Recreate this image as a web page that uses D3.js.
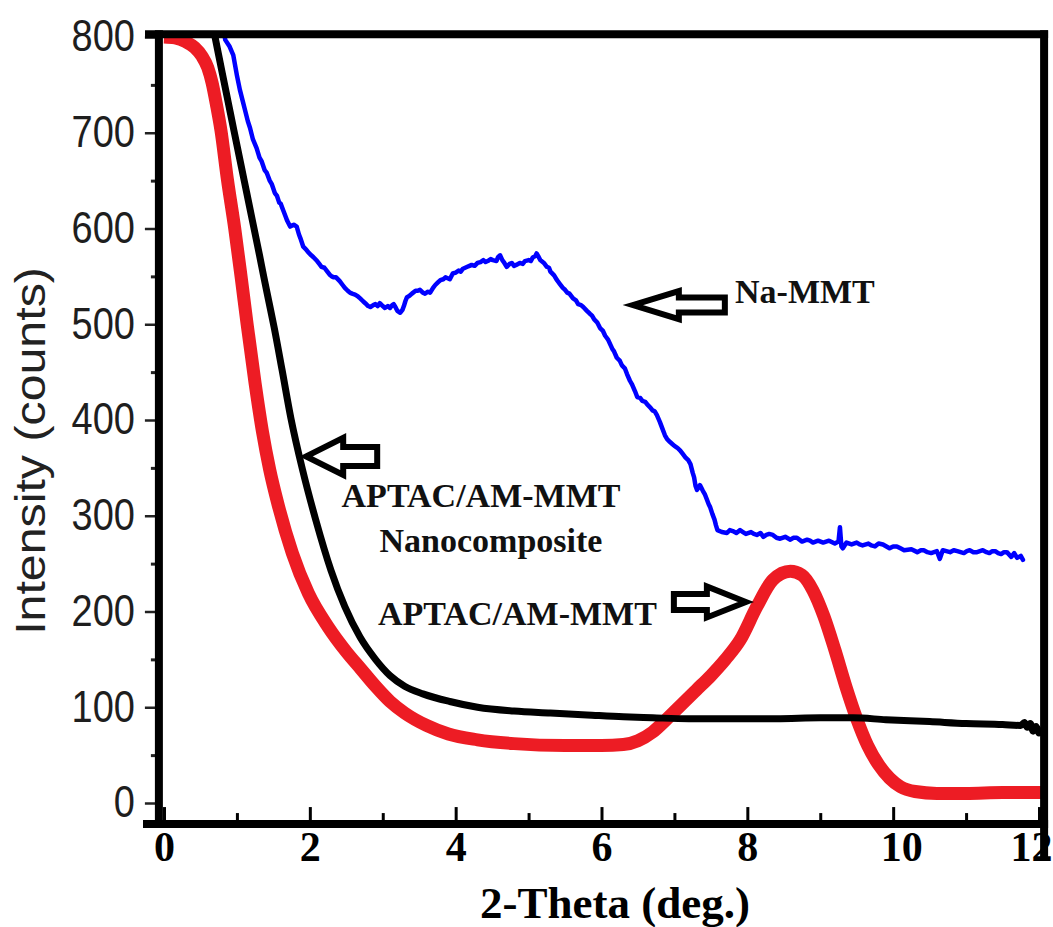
<!DOCTYPE html>
<html>
<head>
<meta charset="utf-8">
<script src="https://cdn.jsdelivr.net/npm/d3@7"></script>
<style>
  html, body { margin: 0; padding: 0; background: #fff; }
  svg { display: block; }
</style>
</head>
<body>
<svg id="chart" width="1053" height="927"></svg>
<script>
// ---------------- DATA ----------------
const xTicks = [0,1,2,3,4,5,6,7,8,9,10,11,12];
const yTicks = [0,100,200,300,400,500,600,700,800];
const yMinorTicks = [50,150,250,350,450,550,650,750];
const xTitle = "2-Theta (deg.)";
const yTitle = "Intensity (counts)";

// Na-MMT (blue)
const naMMT = [
[0.80,815],[0.84,797],[0.90,790],[0.95,781],[1.00,760],[1.04,745],[1.08,733],[1.11,724],[1.15,712],[1.18,705],
[1.22,693],[1.27,684],[1.31,674],[1.34,670],[1.38,661],[1.41,658],[1.45,650],[1.48,646],[1.52,637],[1.55,634],
[1.58,627],[1.60,626],[1.64,618],[1.67,612],[1.69,608],[1.73,602],[1.78,604],[1.82,602],[1.85,594],[1.87,590],
[1.91,581],[1.95,578],[1.98,575],[2.02,572],[2.05,570],[2.10,566],[2.13,563],[2.16,560],[2.20,559],[2.23,556],
[2.27,552],[2.30,550],[2.33,549],[2.36,549],[2.41,545],[2.45,541],[2.48,538],[2.52,535],[2.55,533],[2.58,532],
[2.62,531],[2.66,529],[2.69,527],[2.73,524],[2.76,522],[2.80,519],[2.83,518],[2.87,520],[2.90,521],[2.93,519],
[2.96,522],[3.00,519],[3.03,517],[3.07,519],[3.10,517],[3.13,520],[3.15,521],[3.18,517],[3.20,514],[3.24,512],
[3.27,515],[3.29,519],[3.31,524],[3.33,528],[3.37,530],[3.40,532],[3.45,535],[3.48,535],[3.51,536],[3.55,533],
[3.58,532],[3.62,534],[3.65,533],[3.69,538],[3.72,541],[3.76,544],[3.79,546],[3.83,547],[3.86,549],[3.89,548],
[3.92,547],[3.96,553],[4.00,554],[4.04,556],[4.07,555],[4.10,558],[4.13,559],[4.16,560],[4.19,561],[4.22,562],
[4.26,561],[4.30,564],[4.34,565],[4.38,567],[4.41,565],[4.44,566],[4.48,568],[4.51,567],[4.56,566],[4.58,570],
[4.61,572],[4.64,567],[4.66,565],[4.70,560],[4.74,563],[4.77,564],[4.80,561],[4.83,562],[4.88,564],[4.92,563],
[4.95,566],[5.00,567],[5.03,566],[5.06,570],[5.09,571],[5.11,574],[5.14,570],[5.16,567],[5.21,564],[5.25,560],
[5.28,559],[5.30,555],[5.35,551],[5.39,546],[5.43,542],[5.47,538],[5.50,536],[5.53,533],[5.56,532],[5.61,527],
[5.65,525],[5.68,521],[5.72,520],[5.75,518],[5.80,514],[5.84,511],[5.87,509],[5.90,505],[5.94,502],[5.98,496],
[6.02,493],[6.05,488],[6.09,484],[6.12,479],[6.15,474],[6.17,472],[6.21,465],[6.25,462],[6.28,457],[6.32,454],
[6.35,448],[6.39,441],[6.42,437],[6.46,430],[6.49,424],[6.53,423],[6.56,420],[6.60,419],[6.63,416],[6.67,413],
[6.70,410],[6.73,409],[6.76,405],[6.80,398],[6.83,392],[6.87,384],[6.90,380],[6.94,377],[6.97,375],[7.00,373],
[7.04,371],[7.08,368],[7.12,364],[7.15,361],[7.19,358],[7.22,354],[7.25,345],[7.27,340],[7.29,331],[7.31,327],
[7.35,332],[7.39,326],[7.42,322],[7.44,318],[7.47,312],[7.49,309],[7.52,302],[7.55,296],[7.57,290],[7.59,285],
[7.65,283],[7.72,282],[7.76,285],[7.80,284],[7.85,282],[7.90,285],[7.94,283],[7.98,281],[8.05,283],[8.09,281],
[8.13,280],[8.18,282],[8.22,278],[8.26,280],[8.30,281],[8.35,280],[8.40,277],[8.45,276],[8.52,278],[8.59,275],
[8.63,277],[8.68,277],[8.75,273],[8.82,275],[8.86,274],[8.90,272],[8.97,274],[9.04,272],[9.08,273],[9.12,274],
[9.20,271],[9.25,273],[9.27,288],[9.29,268],[9.31,266],[9.36,272],[9.43,270],[9.50,272],[9.54,270],[9.58,269],
[9.66,271],[9.70,269],[9.75,268],[9.80,271],[9.86,270],[9.95,266],[10.00,268],[10.05,268],[10.10,266],[10.15,264],
[10.25,265],[10.33,262],[10.38,264],[10.42,264],[10.47,262],[10.52,261],[10.60,263],[10.64,255],[10.68,264],[10.73,263],
[10.78,262],[10.83,264],[10.88,263],[10.97,261],[11.01,263],[11.05,264],[11.10,262],[11.15,262],[11.23,264],[11.28,262],
[11.32,261],[11.36,263],[11.40,263],[11.44,261],[11.48,260],[11.52,262],[11.56,262],[11.62,257],[11.66,261],[11.70,256],
[11.75,258],[11.78,254]
];

// APTAC/AM-MMT Nanocomposite (black)
const nanocomposite = [
[0.62,830],[0.70,800],[0.80,762],[0.88,732],[0.96,702],[1.03,676],[1.10,650],[1.17,624],[1.24,598],[1.31,572],
[1.37,549],[1.44,523],[1.51,497],[1.62,452],[1.74,402],[1.90,348],[2.08,296],[2.29,243],[2.48,205],[2.69,173],
[2.90,150],[3.10,133],[3.30,122],[3.55,114],[3.92,106],[4.30,100],[4.80,96],[5.30,94],[5.80,92],[6.30,90],
[6.70,89],[7.20,88],[7.80,88],[8.40,88],[9.00,89],[9.45,89],[9.90,87],[10.50,85],[11.00,83],[11.50,82],
[11.75,81],[11.80,84],[11.84,79],[11.88,83],[11.92,75],[11.96,80],[12.00,73],[12.05,78]
];

// APTAC/AM-MMT (red)
const aptacAM = [
[0.00,800],[0.15,799],[0.30,795],[0.42,789],[0.52,780],[0.60,768],[0.66,752],[0.72,729],[0.78,703],[0.87,651],
[0.97,600],[1.06,548],[1.14,500],[1.25,438],[1.35,388],[1.45,348],[1.56,313],[1.76,261],[1.98,219],[2.25,184],
[2.50,158],[2.70,140],[2.90,122],[3.10,106],[3.30,94],[3.60,81],[3.90,72],[4.30,66],[4.80,62],[5.50,60],
[6.00,60],[6.30,61],[6.50,65],[6.70,74],[6.90,88],[7.10,103],[7.30,118],[7.50,133],[7.70,150],[7.90,170],
[8.13,205],[8.35,233],[8.59,242],[8.75,238],[8.90,222],[9.05,195],[9.20,160],[9.35,122],[9.50,88],[9.65,60],
[9.80,40],[9.95,26],[10.10,17],[10.30,12],[10.60,10],[11.00,10],[11.50,11],[12.00,11],[12.12,11]
];

// annotation labels and arrow tips (data coordinates)
const labelNa = "Na-MMT";
const labelNano = ["APTAC/AM-MMT", "Nanocomposite"];
const labelAptac = "APTAC/AM-MMT";
const arrowTips = [
  {name:"na",   tip:[6.43,520], dir:-1},
  {name:"nano", tip:[1.95,362], dir:-1},
  {name:"apt",  tip:[7.98,210], dir: 1}
];

// ---------------- CHART ----------------
const svg = d3.select("#chart");
svg.append("rect").attr("width",1053).attr("height",927).attr("fill","#fff");

const x = d3.scaleLinear().domain([0,12]).range([164,1039]);
const y = d3.scaleLinear().domain([0,800]).range([803,37]);

const L = x(-0.07), R = x(12.07), T = y(803), B = y(-22);

const defs = svg.append("defs");
defs.append("clipPath").attr("id","clipPlot").append("rect")
  .attr("x",L).attr("y",T).attr("width",R-L).attr("height",B-T);
defs.append("clipPath").attr("id","clipRed").append("rect")
  .attr("x",L).attr("y",T).attr("width",R-L+12).attr("height",B-T);

// y axis major
const gy = svg.append("g").attr("transform",`translate(${L},0)`)
  .call(d3.axisLeft(y).tickValues(yTicks).tickSize(14).tickPadding(10));
gy.select(".domain").remove();
gy.selectAll(".tick line").attr("stroke","#222").attr("stroke-width",2.5);
gy.selectAll(".tick text")
  .attr("font-family","'Liberation Sans', Arial, sans-serif")
  .attr("font-size",38).attr("fill","#1e1e1e")
  .attr("transform","scale(1,1.15)");

// y axis minor
const gym = svg.append("g").attr("transform",`translate(${L},0)`)
  .call(d3.axisLeft(y).tickValues(yMinorTicks).tickSize(8).tickFormat(""));
gym.select(".domain").remove();
gym.selectAll(".tick line").attr("stroke","#222").attr("stroke-width",3);

// x axis
const gx = svg.append("g").attr("transform",`translate(0,${B})`)
  .call(d3.axisBottom(x).tickValues(xTicks).tickSize(-17).tickFormat(d => d % 2 ? "" : d));
gx.select(".domain").remove();
gx.selectAll(".tick line").attr("stroke","#000").attr("stroke-width",3)
  .attr("y2", d => d % 2 ? -11 : -17);
gx.selectAll(".tick text")
  .attr("y",37).attr("dy",0)
  .attr("dx", d => d === 10 ? 8 : (d === 12 ? -8 : 0))
  .attr("font-family","'Liberation Serif', 'Times New Roman', serif")
  .attr("font-weight","bold").attr("font-size",42).attr("fill","#000");

// lines
svg.append("path").datum(naMMT)
  .attr("clip-path","url(#clipPlot)")
  .attr("d", d3.line().x(d => x(d[0])).y(d => y(d[1])).curve(d3.curveLinear))
  .attr("fill","none").attr("stroke","#0000ff").attr("stroke-width",4.5)
  .attr("stroke-linejoin","round").attr("stroke-linecap","round");

const smooth = d3.line().x(d => x(d[0])).y(d => y(d[1])).curve(d3.curveMonotoneX);

svg.append("path").datum(aptacAM)
  .attr("clip-path","url(#clipRed)")
  .attr("d", smooth)
  .attr("fill","none").attr("stroke","#ed1c24").attr("stroke-width",13)
  .attr("stroke-linejoin","round").attr("stroke-linecap","butt");

svg.append("path").datum(nanocomposite)
  .attr("clip-path","url(#clipPlot)")
  .attr("d", smooth)
  .attr("fill","none").attr("stroke","#000").attr("stroke-width",7)
  .attr("stroke-linejoin","round");

// frame
const frame = svg.append("g").attr("stroke","#000").attr("stroke-width",8).attr("stroke-linecap","butt");
frame.append("line").attr("x1",145).attr("x2",R+4).attr("y1",T).attr("y2",T);
frame.append("line").attr("x1",143).attr("x2",R+4).attr("y1",B).attr("y2",B);
frame.append("line").attr("x1",L).attr("x2",L).attr("y1",T-4).attr("y2",B+4);
frame.append("line").attr("x1",R).attr("x2",R).attr("y1",T-4).attr("y2",858);

// axis titles
svg.append("text").text(xTitle)
  .attr("x",615).attr("y",918).attr("text-anchor","middle")
  .attr("font-family","'Liberation Serif', 'Times New Roman', serif")
  .attr("font-weight","bold").attr("font-size",45).attr("fill","#000");

svg.append("text").text(yTitle)
  .attr("transform","translate(45,451) rotate(-90) scale(1.15,1)")
  .attr("text-anchor","middle")
  .attr("font-family","'Liberation Sans', Arial, sans-serif")
  .attr("font-size",42).attr("fill","#222");

// arrows
const arrowShape = {
  na:   {head:46, headHalf:14,   shaftHalf:7.5, len:92},
  nano: {head:37, headHalf:18.5, shaftHalf:9.5, len:71},
  apt:  {head:39, headHalf:15.5, shaftHalf:8,   len:72}
};
arrowTips.forEach(a => {
  const s = arrowShape[a.name];
  const tx = x(a.tip[0]), ty = y(a.tip[1]), d = -a.dir;
  const pts = [
    [tx, ty],
    [tx + d*s.head, ty - s.headHalf],
    [tx + d*s.head, ty - s.shaftHalf],
    [tx + d*s.len,  ty - s.shaftHalf],
    [tx + d*s.len,  ty + s.shaftHalf],
    [tx + d*s.head, ty + s.shaftHalf],
    [tx + d*s.head, ty + s.headHalf]
  ];
  svg.append("polygon").attr("points", pts.map(p => p.join(",")).join(" "))
    .attr("fill","#fff").attr("stroke","#000").attr("stroke-width",6)
    .attr("stroke-linejoin","miter");
});

// annotation texts
const ann = svg.append("g")
  .attr("font-family","'Liberation Serif', 'Times New Roman', serif")
  .attr("font-weight","bold").attr("font-size",34).attr("fill","#111");
ann.append("text").text(labelNa).attr("x",735).attr("y",303);
ann.append("text").text(labelNano[0]).attr("x",481).attr("y",507).attr("text-anchor","middle");
ann.append("text").text(labelNano[1]).attr("x",491).attr("y",552).attr("text-anchor","middle");
ann.append("text").text(labelAptac).attr("x",378).attr("y",625);
</script>
</body>
</html>
